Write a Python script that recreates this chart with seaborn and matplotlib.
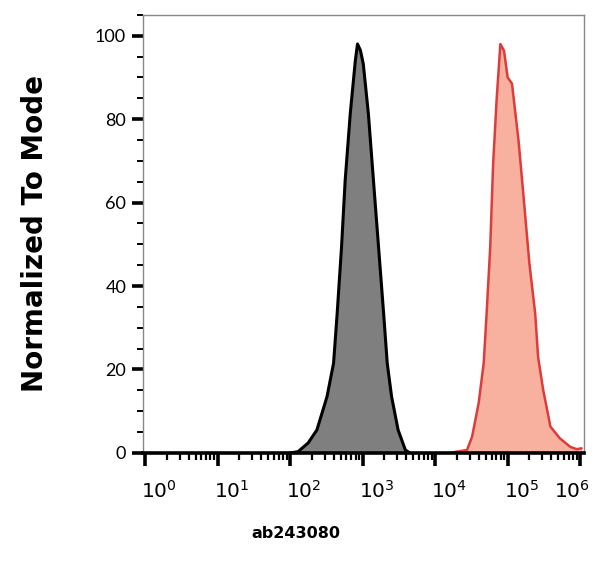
import numpy as np
import pandas as pd
import seaborn as sns
import matplotlib.pyplot as plt
import matplotlib.transforms as mtransforms
from matplotlib.ticker import LogLocator, MultipleLocator, NullFormatter

# histogram outlines (x in log10 units, y = % of mode)
ctrl_log = [2.00, 2.11, 2.25, 2.37, 2.51, 2.60, 2.65, 2.71, 2.76, 2.83, 2.90, 2.93, 2.97, 3.01,
            3.08, 3.15, 3.22, 3.29, 3.34, 3.40, 3.49, 3.59, 3.65]
ctrl_val = [0.0, 0.3, 2.4, 5.5, 13.5, 21.5, 33.5, 49.4, 65.3, 81.3, 94.0, 98.0, 96.5, 93.2,
            81.3, 65.3, 49.4, 33.5, 21.5, 13.5, 5.5, 0.7, 0.0]
ab_log = [4.20, 4.30, 4.44, 4.51, 4.60, 4.67, 4.71, 4.76, 4.80, 4.85, 4.90, 4.95,
          5.00, 5.06, 5.15, 5.22, 5.30, 5.38, 5.42, 5.49, 5.59, 5.72, 5.86, 5.95, 6.02]
ab_val = [0.0, 0.3, 0.7, 3.9, 11.9, 21.5, 33.4, 49.4, 69.3, 85.2, 98.0, 96.4,
          90.0, 88.5, 74.9, 61.3, 45.4, 33.4, 23.0, 15.1, 6.3, 3.5, 1.5, 0.9, 1.1]

decades = [0, 1, 2, 3, 4, 5, 6]
yticks = [0, 20, 40, 60, 80, 100]

ctrl = pd.DataFrame({'x': 10 ** np.array(ctrl_log), 'y': ctrl_val})
ab = pd.DataFrame({'x': 10 ** np.array(ab_log), 'y': ab_val})

sns.set_style('ticks')
plt.rcParams['font.family'] = ['Lato', 'DejaVu Sans']
plt.rcParams['text.color'] = 'black'
plt.rcParams['xtick.labelcolor'] = 'black'
plt.rcParams['ytick.labelcolor'] = 'black'

fig = plt.figure(figsize=(6, 5.69), dpi=100)
ax = fig.add_axes([0.238, 0.204, 0.735, 0.770])

ax.fill_between(ctrl['x'], ctrl['y'], color='#7f7f7f', lw=0)
sns.lineplot(data=ctrl, x='x', y='y', ax=ax, color='black', lw=2.2, sort=False)
ax.fill_between(ab['x'], ab['y'], color='#f8b09f', lw=0)
sns.lineplot(data=ab, x='x', y='y', ax=ax, color='#dd3c3c', lw=1.8, sort=False)

ax.set_xscale('log')
ax.set_xlim(10 ** -0.03, 10 ** 6.05)
ax.set_ylim(0, 105)

ax.set_xticks([10 ** d for d in decades])
ax.set_xticklabels([r'$10^{%d}$' % d for d in decades], fontsize=14.5)
ax.xaxis.set_minor_locator(LogLocator(base=10, subs=np.arange(2, 10), numticks=20))
ax.xaxis.set_minor_formatter(NullFormatter())
ax.set_yticks(yticks)
ax.set_yticklabels([str(v) for v in yticks], fontsize=13)
ax.yaxis.set_minor_locator(MultipleLocator(5))

ax.tick_params(axis='x', which='major', length=9, width=2.6, color='black', pad=10)
ax.tick_params(axis='x', which='minor', length=5, width=1.6, color='black')
ax.tick_params(axis='y', which='major', length=8, width=2.6, color='black', pad=4)
ax.tick_params(axis='y', which='minor', length=4, width=1.4, color='black')

for i, lab in enumerate(ax.get_xticklabels()):
    dx = 14 if i < len(decades) - 1 else -8
    lab.set_transform(lab.get_transform() + mtransforms.ScaledTranslation(dx / 100, 0, fig.dpi_scale_trans))

for side in ['left', 'top', 'right']:
    ax.spines[side].set_color('#888888')
    ax.spines[side].set_linewidth(1.0)
ax.spines['bottom'].set_color('black')
ax.spines['bottom'].set_linewidth(2.6)

ax.set_xlabel('')
ax.set_ylabel('Normalized To Mode', fontsize=20, fontweight='bold',
              color='black', family='DejaVu Sans', labelpad=33)
fig.text(0.493, 0.063, 'ab243080', fontsize=11.5, fontweight='bold',
         color='black', family='DejaVu Sans', ha='center', va='center')

plt.savefig('out.png', dpi=100)
